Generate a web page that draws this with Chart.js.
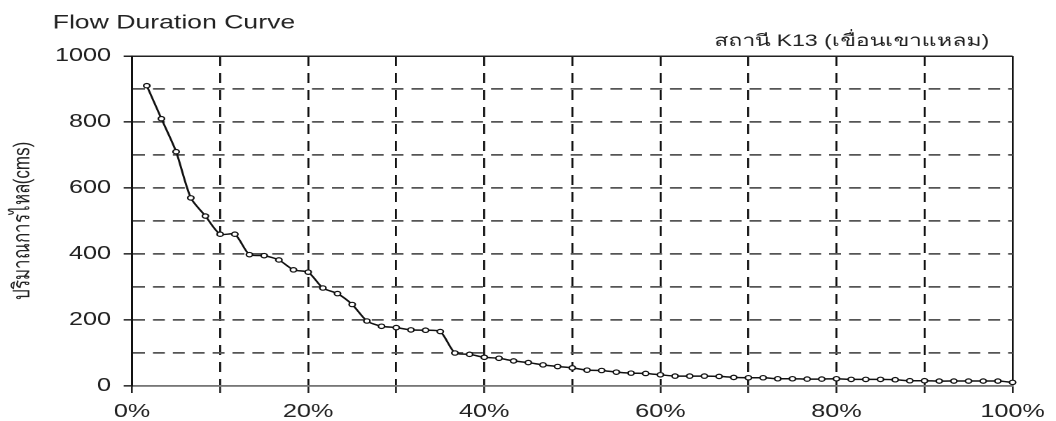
<!DOCTYPE html>
<html>
<head>
<meta charset="utf-8">
<title>Flow Duration Curve</title>
<script src="https://cdn.jsdelivr.net/npm/chart.js@4/dist/chart.umd.min.js"></script>
<style>
  html, body { margin: 0; padding: 0; background: #fff; }
  #chart { display: block; width: 1056px; height: 421px; }
</style>
</head>
<body>
<canvas id="chart" width="754" height="421" style="width:1056px;height:421px"></canvas>
<script>
'use strict';

// exceedance probability (%) of each point
const exceedance = [
  1.67, 3.33, 5, 6.67, 8.33, 10, 11.67, 13.33, 15, 16.67,
  18.33, 20, 21.67, 23.33, 25, 26.67, 28.33, 30, 31.67, 33.33,
  35, 36.67, 38.33, 40, 41.67, 43.33, 45, 46.67, 48.33, 50,
  51.67, 53.33, 55, 56.67, 58.33, 60, 61.67, 63.33, 65, 66.67,
  68.33, 70, 71.67, 73.33, 75, 76.67, 78.33, 80, 81.67, 83.33,
  85, 86.67, 88.33, 90, 91.67, 93.33, 95, 96.67, 98.33, 100
];

// flow (cms)
const flow = [
  910, 810, 710, 570, 515, 460, 460, 398, 395, 382,
  352, 345, 297, 280, 247, 197, 181, 177, 170, 169,
  165, 100, 96, 87, 84, 76, 71, 64, 59, 55,
  48, 47, 42, 39, 38, 34, 30, 30, 30, 29,
  26, 25, 25, 22, 22, 21, 21, 22, 20, 20,
  20, 19, 16, 16, 15, 15, 15, 15, 15, 11
];

const chartTitle = 'Flow Duration Curve';
const stationLabel = 'สถานี K13 (เขื่อนเขาแหลม)';
const yAxisTitle = 'ปริมาณการไหล(cms)';

const xTickStep = 10;
const yTickStep = 100;

const fontFamily = '"Liberation Sans", Arial, "Noto Sans", sans-serif';
const textColor = '#222';

// header texts (title left, station right)
const headerText = {
  id: 'headerText',
  afterDraw(chart){
    const ctx = chart.ctx;
    ctx.save();
    ctx.fillStyle = textColor;
    ctx.textBaseline = 'alphabetic';
    ctx.font = '19px ' + fontFamily;
    ctx.textAlign = 'left';
    ctx.fillText(chartTitle, 37.6, 28.3);
    ctx.font = '16.5px ' + fontFamily;
    ctx.textAlign = 'right';
    ctx.fillText(stationLabel, 706.4, 46);
    ctx.restore();
  }
};

const isEdgeX = v => v === 0 || v === 100;
const isEdgeY = v => v === 0 || v === 1000;

new Chart(document.getElementById('chart'), {
  type: 'line',
  data: {
    datasets: [{
      data: exceedance.map((p, i) => ({x: p, y: flow[i]})),
      borderColor: '#111',
      borderWidth: 1.5,
      tension: 0.25,
      pointRadius: 2.2,
      pointBorderWidth: 1.2,
      pointBackgroundColor: '#fff',
      pointBorderColor: '#111',
      clip: false
    }]
  },
  options: {
    responsive: false,
    devicePixelRatio: 2,
    animation: false,
    layout: { padding: { top: 56, right: 28.3, bottom: 0, left: 0 } },
    plugins: {
      legend: { display: false },
      tooltip: { enabled: false }
    },
    scales: {
      x: {
        type: 'linear',
        min: 0,
        max: 100,
        afterFit: scale => { scale.height = 35; },
        ticks: {
          stepSize: xTickStep,
          autoSkip: false,
          maxRotation: 0,
          padding: 8,
          color: textColor,
          font: { family: fontFamily, size: 18 },
          callback: v => (v % 20 === 0 ? v + '%' : '')
        },
        grid: {
          color: '#111',
          lineWidth: c => (c.tick && isEdgeX(c.tick.value) ? 1.3 : 1.4),
          tickLength: 7,
          tickColor: '#222',
          tickWidth: 1.3
        },
        border: {
          display: true,
          color: '#777',
          width: 1.6,
          dash: c => (c.tick && !isEdgeX(c.tick.value) ? [10, 7] : [])
        }
      },
      y: {
        type: 'linear',
        min: 0,
        max: 1000,
        afterFit: scale => { scale.width = 94.3; },
        title: {
          display: true,
          text: yAxisTitle,
          color: textColor,
          font: { family: fontFamily, size: 17 },
          padding: { top: 6, bottom: 0 }
        },
        ticks: {
          stepSize: yTickStep,
          autoSkip: false,
          padding: 9,
          color: textColor,
          font: { family: fontFamily, size: 18 },
          callback: v => (v % 200 === 0 ? v : '')
        },
        grid: {
          color: c => {
            if (!c.tick) return '#666';
            if (c.tick.value === 0) return '#777';
            if (c.tick.value === 1000) return '#222';
            return '#555';
          },
          lineWidth: c => (c.tick && c.tick.value === 1000 ? 1.5 : 1.7),
          tickLength: 6,
          tickColor: c => (c.tick && c.tick.value % 200 === 0 ? '#222' : 'rgba(0,0,0,0)'),
          tickWidth: 1.5
        },
        border: {
          display: true,
          color: '#111',
          width: 1.5,
          dash: c => (c.tick && !isEdgeY(c.tick.value) ? [8.5, 5.7] : [])
        }
      }
    }
  },
  plugins: [headerText]
});
</script>
</body>
</html>
